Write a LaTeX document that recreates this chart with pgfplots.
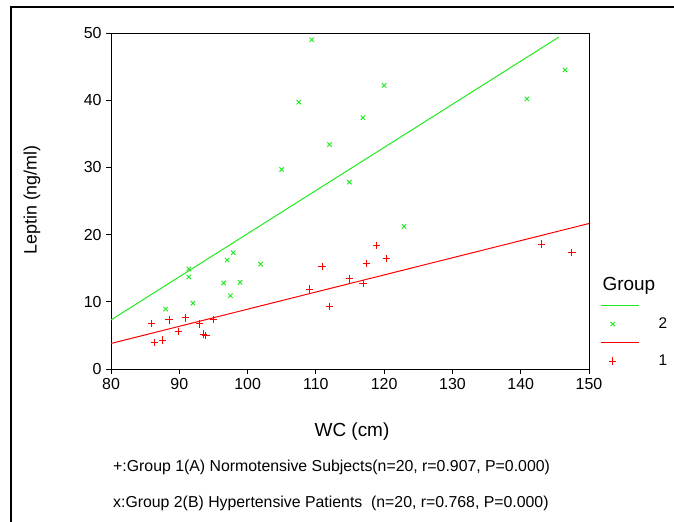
\documentclass[border=0pt]{standalone}
\usepackage{pgfplots}
\pgfplotsset{compat=1.18}
\usepackage{fontspec}
\setmainfont{Liberation Sans}
\definecolor{grpgreen}{RGB}{30,235,30}
\definecolor{grpred}{RGB}{255,0,0}
\pgfplotsset{
  lineleg/.style={legend image code/.code={\draw[##1,draw=#1] (0bp,0.5bp) -- (38bp,0.5bp);}},
  markleg/.style={legend image code/.code={\draw[##1] plot coordinates {(12bp,0bp)};\path[draw=none,fill=none] (0bp,0bp) -- (38bp,0bp);}},
}
\begin{document}
\begin{tikzpicture}[x=1bp,y=1bp]
\path[use as bounding box] (0,0) rectangle (674,522);
\draw[line width=1.6bp] (11,0) -- (11,515) -- (674,515);
\begin{axis}[
  at={(111bp,153bp)}, anchor=south west,
  scale only axis, width=478bp, height=336bp,
  xmin=80, xmax=150, ymin=0, ymax=50,
  xtick={80,90,...,150}, ytick={0,10,...,50},
  tick pos=left,
  tick align=outside, major tick length=5bp,
  axis line style={line width=0.9bp},
  tick style={black, line width=0.9bp},
  ticklabel style={font=\fontsize{16}{19}\selectfont},
  /pgf/number format/assume math mode=true,
  xticklabel style={yshift=-1bp},
  yticklabel style={xshift=-1bp},
  legend style={at={(1.023,0.217)}, anchor=north west, draw=none, fill=none,
    inner sep=0pt, row sep=0pt,
    nodes={inner sep=0pt, minimum height=18.5bp, text width=28bp, align=right,
      font=\fontsize{15.5}{18}\selectfont}},
]
\addplot[draw=grpgreen, line width=1bp, lineleg=grpgreen]
  coordinates {(80,7.3) (145.6,49.4)};
\addlegendentry{}
\addplot[only marks, draw=grpgreen, mark=x, mark size=3.1bp,
  mark options={solid, draw=grpgreen, fill=grpgreen, line width=0.95bp}, markleg]
  coordinates {
  (109.4,49.0)(120.0,42.2)(107.5,39.7)(116.9,37.4)(112.0,33.4)
  (105.0,29.7)(114.9,27.8)(146.5,44.5)(140.9,40.2)(122.9,21.2)
  (88.0,8.9)(91.4,14.9)(91.4,13.7)(92.0,9.8)(97.0,16.2)
  (97.9,17.3)(96.5,12.8)(97.5,10.9)(98.9,12.9)(101.9,15.6)};
\addlegendentry{2}
\addplot[draw=grpred, line width=1bp, lineleg=grpred]
  coordinates {(80,3.8) (150,21.65)};
\addlegendentry{}
\addplot[only marks, draw=grpred, mark=+, mark size=3.6bp,
  mark options={solid, draw=grpred, fill=grpred, line width=0.95bp}, markleg]
  coordinates {
  (85.9,6.8)(86.4,4.0)(87.5,4.3)(88.5,7.3)(89.9,5.6)
  (90.9,7.6)(93.0,6.7)(93.6,5.2)(93.9,4.95)(95.0,7.4)
  (109.1,11.9)(110.9,15.3)(112.0,9.3)(114.9,13.4)(116.9,12.7)
  (117.4,15.75)(118.9,18.4)(120.4,16.4)(143.0,18.6)(147.5,17.3)};
\addlegendentry{1}
\end{axis}
\node[anchor=west, font=\fontsize{19}{22}\selectfont] at (599,236) {Group};
\node[font=\fontsize{19}{22}\selectfont] at (352,90) {WC (cm)};
\node[rotate=90, font=\fontsize{18}{22}\selectfont] at (32,322) {Leptin (ng/ml)};
\node[anchor=west, font=\fontsize{15.9}{18}\selectfont, inner sep=0pt] at (113,55) {+:Group 1(A) Normotensive Subjects(n=20, r=0.907, P=0.000)};
\node[anchor=west, font=\fontsize{15.9}{18}\selectfont, inner sep=0pt] at (113,19) {x:Group 2(B) Hypertensive Patients\ \ (n=20, r=0.768, P=0.000)};
\end{tikzpicture}
\end{document}
